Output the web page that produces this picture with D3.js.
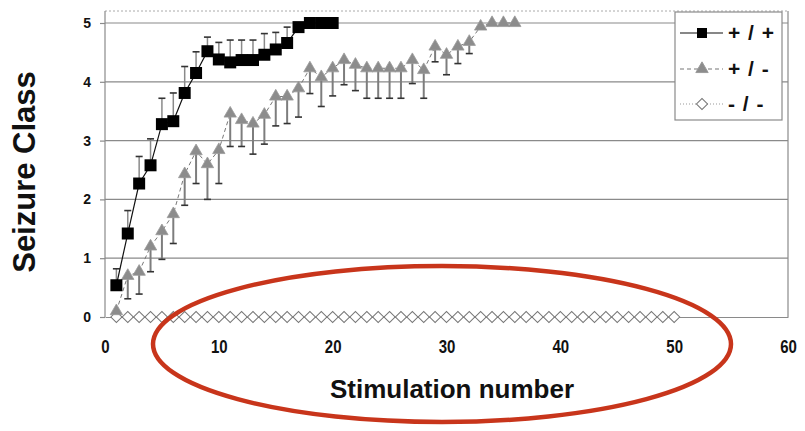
<!DOCTYPE html>
<html>
<head>
<meta charset="utf-8">
<script src="https://cdn.jsdelivr.net/npm/d3@7"></script>
<style>
  body { margin: 0; background: #fff; }
  svg { display: block; font-family: "Liberation Sans", Arial, sans-serif; }
</style>
</head>
<body>
<div id="chart"></div>
<script>
// seizure class per stimulation number (x = index + 1)
const plusPlus = [0.54, 1.42, 2.27, 2.58, 3.28, 3.33, 3.81, 4.15, 4.52, 4.38,
    4.33, 4.37, 4.37, 4.46, 4.55, 4.66, 4.93, 5, 5, 5];
const plusPlusErr = [0.28, 0.39, 0.46, 0.45, 0.44, 0.48, 0.45, 0.36, 0.24, 0.29,
    0.38, 0.34, 0.34, 0.36, 0.29, 0.27, 0, 0, 0, 0];

const plusMinus = [0.1, 0.7, 0.77, 1.2, 1.46, 1.75, 2.43, 2.82, 2.6, 2.84,
    3.46, 3.35, 3.29, 3.44, 3.75, 3.75, 3.89, 4.23, 4.08, 4.23,
    4.37, 4.29, 4.23, 4.23, 4.23, 4.23, 4.37, 4.2, 4.6, 4.46,
    4.6, 4.68, 4.94, 5, 5, 5];
const plusMinusErr = [0, 0.39, 0.38, 0.43, 0.48, 0.5, 0.53, 0.55, 0.6, 0.57,
    0.56, 0.45, 0.52, 0.5, 0.5, 0.46, 0.49, 0.43, 0.5, 0.47,
    0.42, 0.44, 0.51, 0.51, 0.51, 0.51, 0.4, 0.48, 0.26, 0.34,
    0.29, 0.2, 0, 0, 0, 0];

const minusMinus = [0, 0, 0, 0, 0, 0, 0, 0, 0, 0,
    0, 0, 0, 0, 0, 0, 0, 0, 0, 0,
    0, 0, 0, 0, 0, 0, 0, 0, 0, 0,
    0, 0, 0, 0, 0, 0, 0, 0, 0, 0,
    0, 0, 0, 0, 0, 0, 0, 0, 0, 0];

const xTicks = [0, 10, 20, 30, 40, 50, 60];
const yTicks = [0, 1, 2, 3, 4, 5];
const legendLabels = ["+ / +", "+ / -", "- / -"];

const width = 805, height = 431;
const plotLeft = 105, plotRight = 788, plotTop = 11;

const svg = d3.select("#chart").append("svg")
    .attr("width", width)
    .attr("height", height);

const x = d3.scaleLinear().domain([0, 60]).range([plotLeft, plotRight]);
const y = d3.scaleLinear().domain([0, 5]).range([317, 23]);

const toPoints = (vals) => vals.map((v, i) => ({x: i + 1, y: v}));

// grid lines
svg.append("g")
    .selectAll("line")
    .data(yTicks.filter(t => t > 0))
    .join("line")
    .attr("x1", plotLeft).attr("x2", plotRight)
    .attr("y1", d => y(d)).attr("y2", d => y(d))
    .attr("stroke", "#8a8a8a").attr("stroke-width", 1.2);

// plot frame: dotted top, solid right
svg.append("line")
    .attr("x1", plotLeft).attr("x2", plotRight)
    .attr("y1", plotTop).attr("y2", plotTop)
    .attr("stroke", "#aaa").attr("stroke-dasharray", "2,2");
svg.append("line")
    .attr("x1", plotRight).attr("x2", plotRight)
    .attr("y1", plotTop).attr("y2", y(0))
    .attr("stroke", "#8a8a8a").attr("stroke-width", 1.2);

// x axis
const xAxis = svg.append("g")
    .attr("transform", `translate(0,${y(0)})`)
    .call(d3.axisBottom(x).tickValues(xTicks).tickSize(0));
xAxis.select(".domain").attr("stroke", "#8a8a8a").attr("stroke-width", 1.2);
xAxis.selectAll("text")
    .attr("y", 0).attr("dy", null)
    .attr("transform", "translate(0,36) scale(1,1.25)")
    .attr("font-size", 15).attr("font-weight", "bold")
    .attr("font-family", "Liberation Sans, Arial, sans-serif")
    .attr("fill", "#111");

// y axis
const yAxis = svg.append("g")
    .attr("transform", `translate(${plotLeft},0)`)
    .call(d3.axisLeft(y).tickValues(yTicks).tickFormat(d3.format("d"))
        .tickSize(5).tickPadding(9).tickSizeOuter(0));
yAxis.select(".domain").attr("d", `M0,${plotTop}V${y(0)}`)
    .attr("stroke", "#8a8a8a").attr("stroke-width", 1.2);
yAxis.selectAll(".tick line").attr("stroke", "#8a8a8a").attr("stroke-width", 1.2);
yAxis.selectAll("text")
    .attr("font-size", 14).attr("font-weight", "bold")
    .attr("font-family", "Liberation Sans, Arial, sans-serif")
    .attr("fill", "#111");

// axis titles
svg.append("text")
    .attr("x", 452).attr("y", 398)
    .attr("text-anchor", "middle")
    .attr("font-size", 26).attr("font-weight", "bold")
    .attr("fill", "#111")
    .text("Stimulation number");
svg.append("text")
    .attr("transform", "translate(35,172) rotate(-90)")
    .attr("text-anchor", "middle")
    .attr("font-size", 31).attr("font-weight", "bold")
    .attr("fill", "#111")
    .text("Seizure Class");

const line = d3.line().x(d => x(d.x)).y(d => y(d.y));

// error bars
const drawErrors = (vals, errs, dir, lineColor, lineWidth) => {
    const g = svg.append("g");
    const data = vals.map((v, i) => ({x: i + 1, y: v, e: errs[i]})).filter(d => d.e > 0);
    g.selectAll("line.bar")
        .data(data)
        .join("line")
        .attr("class", "bar")
        .attr("x1", d => x(d.x)).attr("x2", d => x(d.x))
        .attr("y1", d => y(d.y)).attr("y2", d => y(d.y + dir * d.e))
        .attr("stroke", lineColor).attr("stroke-width", lineWidth);
    g.selectAll("line.cap")
        .data(data)
        .join("line")
        .attr("class", "cap")
        .attr("x1", d => x(d.x) - 3.5).attr("x2", d => x(d.x) + 3.5)
        .attr("y1", d => y(d.y + dir * d.e)).attr("y2", d => y(d.y + dir * d.e))
        .attr("stroke", "#333").attr("stroke-width", 1.6);
};

// -/- series
svg.append("path")
    .datum(toPoints(minusMinus))
    .attr("d", line)
    .attr("fill", "none").attr("stroke", "#999").attr("stroke-dasharray", "1,2");

// +/- series
drawErrors(plusMinus, plusMinusErr, -1, "#7d7d7d", 2);
svg.append("path")
    .datum(toPoints(plusMinus))
    .attr("d", line)
    .attr("fill", "none").attr("stroke", "#777").attr("stroke-dasharray", "4,3");

// +/+ series
drawErrors(plusPlus, plusPlusErr, 1, "#8a8a8a", 1.5);
svg.append("path")
    .datum(toPoints(plusPlus))
    .attr("d", line)
    .attr("fill", "none").attr("stroke", "#111").attr("stroke-width", 1.2);

// markers
const diamond = d3.symbol().type(d3.symbolSquare).size(62);
const triangle = d3.symbol().type(d3.symbolTriangle).size(66);
const square = d3.symbol().type(d3.symbolSquare).size(144);

svg.append("g")
    .selectAll("path")
    .data(toPoints(minusMinus))
    .join("path")
    .attr("d", diamond)
    .attr("transform", d => `translate(${x(d.x)},${y(d.y)}) rotate(45)`)
    .attr("fill", "#fff").attr("stroke", "#777").attr("stroke-width", 1);

svg.append("g")
    .selectAll("path")
    .data(toPoints(plusMinus))
    .join("path")
    .attr("d", triangle)
    .attr("transform", d => `translate(${x(d.x)},${y(d.y)})`)
    .attr("fill", "#8c8c8c").attr("stroke", "#9a9a9a").attr("stroke-width", 0.8);

svg.append("g")
    .selectAll("path")
    .data(toPoints(plusPlus))
    .join("path")
    .attr("d", square)
    .attr("transform", d => `translate(${x(d.x)},${y(d.y)})`)
    .attr("fill", "#000");

// legend
const legend = svg.append("g");
legend.append("rect")
    .attr("x", 675).attr("y", 12).attr("width", 107).attr("height", 108)
    .attr("fill", "#fff").attr("stroke", "#8a8a8a").attr("stroke-width", 1.2);

const legendRows = [
    {label: legendLabels[0], dash: null, stroke: "#111", symbol: d3.symbol().type(d3.symbolSquare).size(100), fill: "#000", mstroke: "none", rot: 0},
    {label: legendLabels[1], dash: "4,3", stroke: "#777", symbol: d3.symbol().type(d3.symbolTriangle).size(66), fill: "#8c8c8c", mstroke: "#9a9a9a", rot: 0},
    {label: legendLabels[2], dash: "1,2", stroke: "#999", symbol: d3.symbol().type(d3.symbolSquare).size(62), fill: "#fff", mstroke: "#777", rot: 45}
];
const rowY = [33, 69, 104];

legendRows.forEach((r, i) => {
    legend.append("line")
        .attr("x1", 680).attr("x2", 723)
        .attr("y1", rowY[i]).attr("y2", rowY[i])
        .attr("stroke", r.stroke).attr("stroke-width", 1.2)
        .attr("stroke-dasharray", r.dash);
    legend.append("path")
        .attr("d", r.symbol())
        .attr("transform", `translate(702,${rowY[i]}) rotate(${r.rot})`)
        .attr("fill", r.fill).attr("stroke", r.mstroke);
    legend.append("text")
        .attr("x", 728).attr("y", rowY[i]).attr("dy", "0.35em")
        .attr("font-size", 21).attr("font-weight", "bold")
        .attr("letter-spacing", 1)
        .attr("fill", "#111")
        .text(r.label);
});

// red highlight ellipse
svg.append("ellipse")
    .attr("cx", 442).attr("cy", 344)
    .attr("rx", 289).attr("ry", 78)
    .attr("fill", "none")
    .attr("stroke", "#c8351b").attr("stroke-width", 4.5);
</script>
</body>
</html>
